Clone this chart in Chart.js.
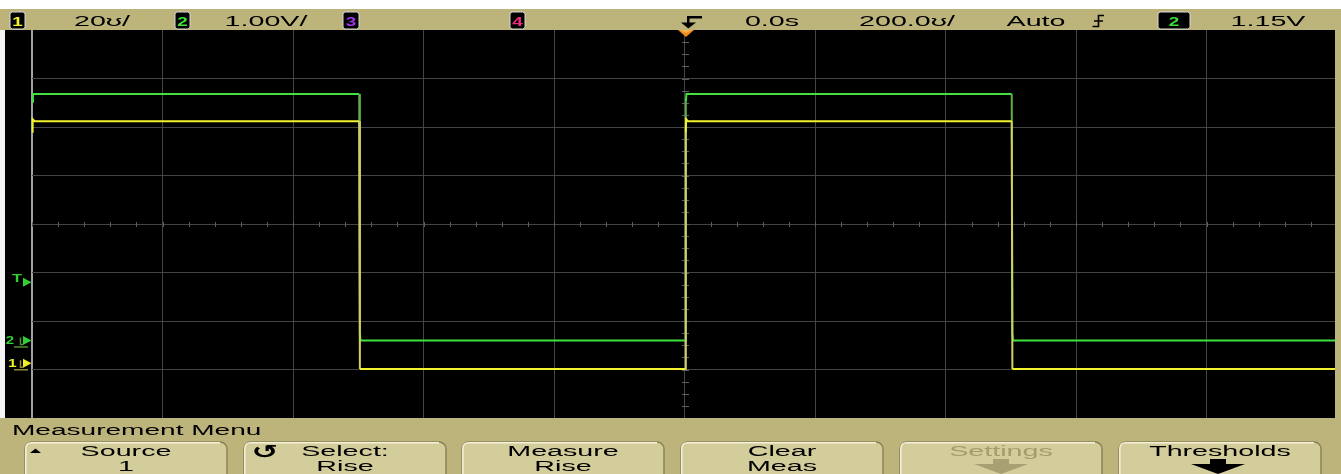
<!DOCTYPE html>
<html>
<head>
<meta charset="utf-8">
<script src="https://cdn.jsdelivr.net/npm/chart.js@4.4.0/dist/chart.umd.min.js"></script>
<style>
  html, body { margin: 0; padding: 0; width: 1341px; height: 474px; overflow: hidden; background: #fff; }
  #plotbg { position: absolute; left: 5px; top: 30px; width: 1330px; height: 388px; background: #000; }
  #wrap { position: absolute; left: 0; top: 30px; width: 1341px; height: 390px; }
  #chrome { position: absolute; left: 0; top: 0; pointer-events: none; }
  #chrome text { font-family: "Liberation Sans", Arial, sans-serif; }
</style>
</head>
<body>
<div id="plotbg"></div>
<div id="wrap"><canvas id="scope" width="1341" height="390"></canvas></div>
<svg id="chrome" width="1341" height="474" xmlns="http://www.w3.org/2000/svg"></svg>

<script>
// time axis in µs (200 µs/div), amplitude in screen divisions
const xMin = -1000, xMax = 1000, xStep = 200;
const yMin = -4, yMax = 4, yStep = 1;

// channel 1 (yellow)
const ch1Time = [-999.5, -999, -996, -498.5, -497.5, 1.5, 2, 2.5, 5, 501.5, 502.5, 1000];
const ch1Div  = [1.90, 2.16, 2.12, 2.12, -2.99, -2.99, 1.90, 2.16, 2.12, 2.12, -2.99, -2.99];

// channel 2 (green)
const ch2Time = [-999.5, -998.5, -498.5, -497.5, -496.5, 1.5, 2, 3, 501.5, 502.5, 503.5, 1000];
const ch2Div  = [2.52, 2.68, 2.68, -2.25, -2.40, -2.40, 2.52, 2.68, 2.68, -2.25, -2.40, -2.40];

// left edge markers (divisions)
const ch1Ground = -2.87;
const ch2Ground = -2.40;
const trigLevel = -1.20;

// status line / softkeys
const topTexts = [['20ʊ/', 102], ['1.00V/', 266], ['0.0s', 772], ['200.0ʊ/', 907], ['Auto', 1036], ['1.15V', 1268]];
const chanBoxes = [['1', 10, 15, '#f2f232'], ['2', 175, 15, '#3ee03e'], ['3', 343, 16, '#a434ec'], ['4', 510, 15, '#ee2a7e'], ['2', 1158, 32, '#3ee03e']];
const softKeys = [
  [25, 'Source', '1', '#000'],
  [244, 'Select:', 'Rise', '#000'],
  [462, 'Measure', 'Rise', '#000'],
  [681, 'Clear', 'Meas', '#000'],
  [900, 'Settings', '', '#a39c6c'],
  [1119, 'Thresholds', '', '#000']
];

const YELLOW = '#f2f22e', GREEN = '#3fe03f';

const toPoints = (times, vals) => times.map((t, i) => ({ x: t, y: vals[i] }));
const edgeColor = (dim) => (c) => Math.abs(c.p1.parsed.y - c.p0.parsed.y) > 1 ? dim : undefined;

// ---------- chrome (status bar + menu) ----------
const paintChrome = () => {
  const sx = 1.85;
  let s = '';
  s += '<rect x="0" y="9" width="1341" height="21" fill="#bdb47c"/>';
  s += '<rect x="0" y="418" width="1341" height="56" fill="#bdb47c"/>';
  s += '<rect x="1335" y="30" width="6" height="388" fill="#bdb47c"/>';
  s += '<rect x="0" y="30" width="5" height="388" fill="#f4f4f4"/>';

  chanBoxes.forEach(([n, x, w, col]) => {
    s += `<rect x="${x}" y="12" width="${w}" height="17" rx="2.5" fill="#000" stroke="#d9d9d9" stroke-width="1"/>`;
    s += `<text transform="translate(${x + w / 2} 25.5) scale(1.4 1)" text-anchor="middle" font-size="13.5" font-weight="bold" fill="${col}">${n}</text>`;
  });
  topTexts.forEach(([t, x]) => {
    s += `<text transform="translate(${x} 26) scale(${sx} 1)" text-anchor="middle" font-size="15.5" fill="#000">${t}</text>`;
  });
  // trigger position symbol
  s += '<rect x="687" y="16" width="15" height="2.5" fill="#000"/>';
  s += '<rect x="687" y="16" width="2.5" height="8" fill="#000"/>';
  s += '<polygon points="681,22.5 696,22.5 688.3,28.5" fill="#000"/>';
  // falling edge symbol
  s += '<path d="M1104 15.5 H1098.5 V26.5 H1092.5 M1094 21 H1103" stroke="#000" stroke-width="1.6" fill="none"/>';
  // trigger position marker
  s += '<polygon points="678,30 694,30 686,37" fill="#f28a1a"/>';
  s += '<polygon points="680,30 692,30 686,33" fill="#f9b150"/>';

  // menu
  s += `<text transform="translate(12 435) scale(1.81 1)" font-size="15.5" fill="#000">Measurement Menu</text>`;
  softKeys.forEach(([x, l1, l2, col]) => {
    const w = 202, cx = x + w / 2;
    s += `<rect x="${x}" y="442" width="${w}" height="44" rx="7" fill="#d3cc9b" stroke="#8a8256" stroke-width="1.5"/>`;
    s += `<path d="M${x + 0.8} 484 V449 Q${x + 0.8} 442.8 ${x + 7} 442.8 H${x + w - 7}" stroke="#f6f2da" stroke-width="1.5" fill="none"/>`;
    s += `<text transform="translate(${cx} 456) scale(${sx} 1)" text-anchor="middle" font-size="15.5" fill="${col}">${l1}</text>`;
    if (l2) s += `<text transform="translate(${cx} 471) scale(${sx} 1)" text-anchor="middle" font-size="15.5" fill="${col}">${l2}</text>`;
  });
  // softkey glyphs
  s += '<polygon points="30,453 41,453 35.5,448.5" fill="#000"/>';
  s += '<text transform="translate(265 458) scale(1.7 1)" text-anchor="middle" font-size="19" font-weight="bold" fill="#000" style="font-family:\'DejaVu Sans\'">↺</text>';
  const arrow = (cx, col) => `<polygon points="${cx - 8},459 ${cx + 8},459 ${cx + 8},464 ${cx + 27},464 ${cx},474 ${cx - 27},464 ${cx - 8},464" fill="${col}"/>`;
  s += arrow(1001, '#a8a072');
  s += arrow(1218, '#000');
  document.querySelector('#chrome').innerHTML = s;
};

// ---------- graticule ticks + edge markers ----------
const scopeMarks = {
  id: 'scopeMarks',
  beforeDatasetsDraw(chart) {
    const { ctx, scales: { x, y } } = chart;
    const cx = Math.round(x.getPixelForValue(0)) + 0.5;
    const cy = Math.round(y.getPixelForValue(0)) + 0.5;
    ctx.save();
    ctx.strokeStyle = '#5e5e5e';
    ctx.lineWidth = 1;
    ctx.beginPath();
    for (let t = xMin; t <= xMax; t += xStep / 5) {
      const px = Math.round(x.getPixelForValue(t)) + 0.5;
      ctx.moveTo(px, cy - 2.5); ctx.lineTo(px, cy + 2.5);
    }
    for (let v = yMin; v <= yMax; v += yStep / 4) {
      const py = Math.round(y.getPixelForValue(v)) + 0.5;
      ctx.moveTo(cx - 3.5, py); ctx.lineTo(cx + 3.5, py);
    }
    ctx.stroke();
    ctx.restore();
  },
  afterDraw(chart) {
    const { ctx, scales: { y } } = chart;
    const tri = (c, col) => {
      ctx.fillStyle = col;
      ctx.beginPath();
      ctx.moveTo(23, c - 4.5); ctx.lineTo(23, c + 4.5); ctx.lineTo(31.5, c); ctx.closePath();
      ctx.fill();
    };
    const label = (txt, x, yb, col, size) => {
      ctx.save();
      ctx.fillStyle = col;
      ctx.font = `bold ${size}px "Liberation Sans", Arial, sans-serif`;
      ctx.textAlign = 'center';
      ctx.translate(x, yb);
      ctx.scale(1.5, 1);
      ctx.fillText(txt, 0, 0);
      ctx.restore();
    };
    const ground = (c, col) => {
      ctx.strokeStyle = col;
      ctx.lineWidth = 1.5;
      ctx.beginPath();
      ctx.moveTo(20.5, c - 3); ctx.lineTo(20.5, c + 4); ctx.lineTo(23, c + 4);
      ctx.moveTo(14, c + 6.5); ctx.lineTo(28, c + 6.5);
      ctx.stroke();
    };
    ctx.save();
    const cT = y.getPixelForValue(trigLevel);
    label('T', 17, cT - 0.5, '#33d033', 11);
    tri(cT, '#33d033');
    const c2 = y.getPixelForValue(ch2Ground);
    label('2', 10, c2 + 4, '#33d033', 10);
    ground(c2, '#4f8f34');
    tri(c2, '#33d033');
    const c1 = y.getPixelForValue(ch1Ground);
    label('1', 12.5, c1 + 4, '#f0f028', 10);
    ground(c1, '#8f8732');
    tri(c1, '#f0f028');
    ctx.restore();
  }
};

paintChrome();

const ctx = document.getElementById('scope');
const scopeChart = new Chart(ctx, {
  type: 'line',
  data: {
    datasets: [
      {
        label: '1',
        data: toPoints(ch1Time, ch1Div),
        borderColor: YELLOW,
        borderWidth: 2,
        pointRadius: 0,
        tension: 0,
        clip: 4,
        segment: { borderColor: edgeColor('#cfcf66') }
      },
      {
        label: '2',
        data: toPoints(ch2Time, ch2Div),
        borderColor: GREEN,
        borderWidth: 2,
        pointRadius: 0,
        tension: 0,
        clip: 4,
        segment: { borderColor: edgeColor('#5fae47') }
      }
    ]
  },
  options: {
    responsive: false,
    animation: false,
    devicePixelRatio: 1,
    layout: { padding: { left: 32, right: 4, top: 0, bottom: 2 } },
    plugins: { legend: { display: false }, tooltip: { enabled: false } },
    scales: {
      x: {
        type: 'linear',
        min: xMin,
        max: xMax,
        ticks: { display: false, stepSize: xStep, autoSkip: false },
        border: { display: false },
        grid: {
          drawTicks: false,
          color: (c) => c.tick.value === xMin ? '#a2a2a2' : (c.tick.value === xMax ? 'rgba(0,0,0,0)' : '#444444'),
          lineWidth: (c) => c.tick.value === xMin ? 2 : 1
        }
      },
      y: {
        type: 'linear',
        min: yMin,
        max: yMax,
        ticks: { display: false, stepSize: yStep, autoSkip: false },
        border: { display: false },
        grid: {
          drawTicks: false,
          color: (c) => Math.abs(c.tick.value) === yMax ? 'rgba(0,0,0,0)' : '#444444'
        }
      }
    }
  },
  plugins: [scopeMarks]
});
</script>
</body>
</html>
